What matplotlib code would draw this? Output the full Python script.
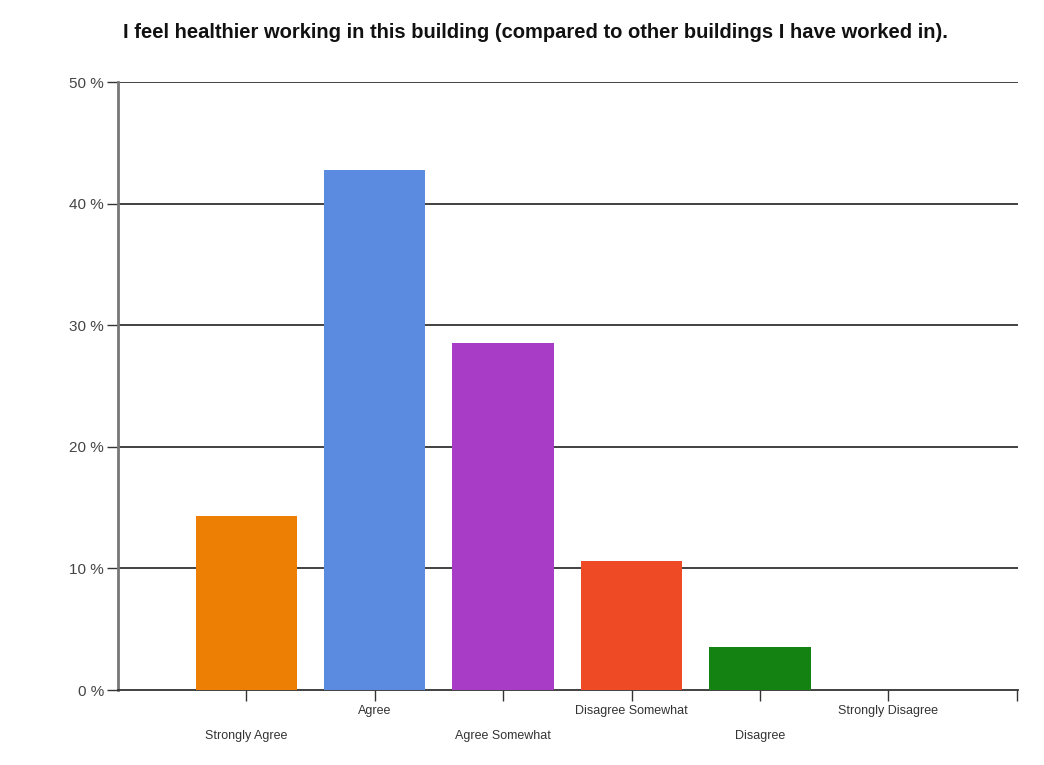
import matplotlib
matplotlib.use("Agg")
import matplotlib.pyplot as plt
import numpy as np

categories = ["Strongly Agree", "Agree", "Agree Somewhat", "Disagree Somewhat", "Disagree", "Strongly Disagree"]
values = [14.3, 42.8, 28.5, 10.6, 3.5, 0.0]
colors = ["#EE7F05", "#5A8BE0", "#A83CC6", "#EE4A26", "#138213", "#888888"]
yticks = [0, 10, 20, 30, 40, 50]
ytick_labels = ["0 %", "10 %", "20 %", "30 %", "40 %", "50 %"]
title = "I feel healthier working in this building (compared to other buildings I have worked in)."

plt.rcParams["font.family"] = ["Liberation Sans", "DejaVu Sans"]

fig = plt.figure(figsize=(10.44, 7.65), dpi=100)
ax = fig.add_axes([118/1044, 1-690/765, 900/1044, 608/765])

x = np.arange(len(categories))
ax.bar(x, values, width=0.79, color=colors, zorder=3)

ax.set_xlim(-1, 6.01)
ax.set_ylim(0, 50)
ax.set_yticks(yticks)
ax.set_yticklabels(ytick_labels, fontsize=11, color="#444444")
for v in yticks[1:]:
    ax.axhline(v, color="#333333", lw=1.3, zorder=1)

ax.set_xticks(x)
ax.set_xticklabels([])
ax.set_xticks([6.0], minor=True)
for i, c in enumerate(categories):
    off = -0.075 if i % 2 == 0 else -0.035
    ax.text(i, off, c, transform=ax.get_xaxis_transform(), ha="center", va="center",
            fontsize=9, color="#333333")

ax.tick_params(axis="x", which="both", direction="out", length=8, width=1, color="#333333")
ax.tick_params(axis="y", direction="out", length=8, width=1, color="#333333", pad=2)

for s in ["top", "right"]:
    ax.spines[s].set_visible(False)
ax.spines["left"].set_color("#777777")
ax.spines["left"].set_linewidth(2)
ax.spines["bottom"].set_color("#333333")
ax.spines["bottom"].set_linewidth(1.3)

fig.text(535/1044, 1-33/765, title, ha="center", va="center", fontsize=14.5, fontweight="bold", color="#111111")

fig.savefig("out.png", dpi=100, facecolor="white")
